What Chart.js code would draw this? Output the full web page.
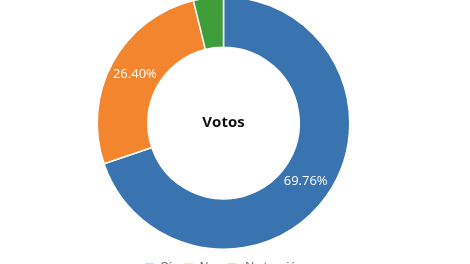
<!DOCTYPE html>
<html lang="es">
<head>
  <meta charset="UTF-8">
  <title>Votos</title>
  <script src="https://cdn.jsdelivr.net/npm/chart.js"></script>
  <style>
    html, body { margin: 0; padding: 0; background: #fff; overflow: hidden; width: 470px; height: 264px; }
    #wrap { position: absolute; left: 0; top: -4px; width: 447px; height: 288px; }
  </style>
</head>
<body>
  <div id="wrap"><canvas id="votosChart"></canvas></div>
  <script>
    // datos
    const labels = ['Sí', 'No', 'Abstención'];
    const votos = [69.76, 26.40, 3.84];
    const colores = ['#3974b0', '#f4852f', '#3f9e3a'];

    // etiquetas de porcentaje + texto central
    const etiquetas = {
      id: 'etiquetas',
      afterDatasetsDraw(chart) {
        const ctx = chart.ctx;
        const meta = chart.getDatasetMeta(0);
        ctx.save();
        ctx.textAlign = 'center';
        ctx.textBaseline = 'middle';
        ctx.fillStyle = '#fff';
        ctx.font = '13px "Open Sans", sans-serif';
        meta.data.forEach((arc, i) => {
          if (votos[i] < 5) return;
          const p = arc.tooltipPosition();
          ctx.fillText(votos[i].toFixed(2) + '%', p.x, p.y);
        });
        const c = meta.data[0];
        ctx.fillStyle = '#111';
        ctx.font = 'bold 15px "Open Sans", sans-serif';
        ctx.fillText('Votos', c.x, c.y);
        ctx.restore();
      }
    };

    new Chart(document.getElementById('votosChart'), {
      type: 'doughnut',
      data: {
        labels: labels,
        datasets: [{
          data: votos,
          backgroundColor: colores,
          borderColor: '#fff',
          borderWidth: 1.5
        }]
      },
      options: {
        responsive: true,
        maintainAspectRatio: false,
        animation: false,
        cutout: '60%',
        layout: { padding: 0 },
        plugins: {
          legend: {
            position: 'bottom',
            labels: { boxWidth: 10, boxHeight: 10, padding: 12, font: { size: 12 }, color: '#666' }
          },
          tooltip: { enabled: false }
        }
      },
      plugins: [etiquetas]
    });
  </script>
</body>
</html>
